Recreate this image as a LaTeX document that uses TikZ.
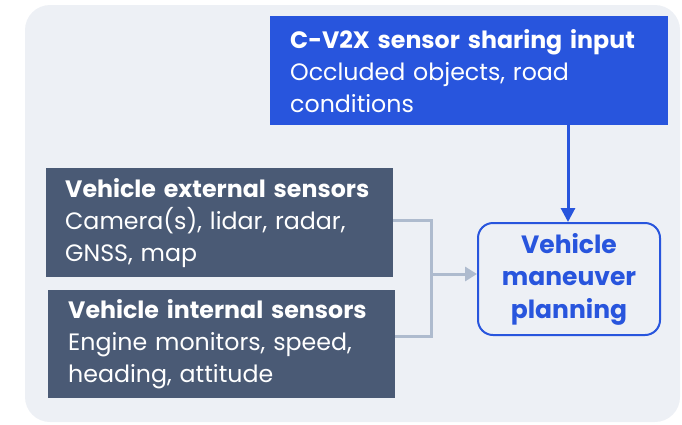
\documentclass[tikz,border=0pt]{standalone}
\usepackage{fontspec}
\setmainfont{Poppins}
\usetikzlibrary{arrows.meta}
\definecolor{bgc}{HTML}{EDF0F5}
\definecolor{qblue}{HTML}{2855DD}
\definecolor{slate}{HTML}{4A5A75}
\definecolor{brk}{HTML}{AEBBCE}
\tikzset{
  darkbox/.style={fill=slate, text=white, anchor=north west, inner xsep=19pt, inner ysep=0pt, align=left, font=\fontsize{23.7}{32}\selectfont},
  bluebox/.style={fill=qblue, text=white, anchor=north west, inner xsep=20pt, inner ysep=0pt, align=left, font=\fontsize{23.7}{32}\selectfont},
  planbox/.style={draw=qblue, line width=2pt, rounded corners=15pt, fill=bgc, text=qblue, align=center, font=\bfseries\fontsize{25}{32.5}\selectfont},
  brkline/.style={draw=brk, line width=3pt},
}
\begin{document}
\begin{tikzpicture}[x=1pt,y=-1pt]
\useasboundingbox (0,0) rectangle (682,424);
\fill[bgc, rounded corners=25pt] (25,5) rectangle (680,422);
\node[bluebox, minimum width=398pt, minimum height=109pt, text width=358pt] (cv2x) at (270,16)
  {\textbf{C-V2X sensor sharing input}\\Occluded objects, road\\conditions};
\node[darkbox, minimum width=347pt, minimum height=109pt, text width=309pt] (ext) at (46,168)
  {\textbf{Vehicle external sensors}\\Camera(s), lidar, radar,\\GNSS, map};
\node[darkbox, minimum width=347pt, minimum height=108pt, text width=307pt, inner xsep=20pt] (int) at (48,290)
  {\textbf{Vehicle internal sensors}\\Engine monitors, speed,\\heading, attitude};
\node[planbox, minimum width=182pt, minimum height=112pt, anchor=north west] (plan) at (477,222)
  {Vehicle\\maneuver\\planning};
\coordinate (j1) at (431,220);
\coordinate (j2) at (431,336);
\coordinate (jm) at (431,274);
\draw[brkline] (ext.east |- j1) -- (j1) -- (j2) -- (int.east |- j2);
\draw[brkline, -{Triangle[length=12pt,width=14pt]}] (jm) -- (plan.west |- jm);
\draw[qblue, line width=3pt, -{Triangle[length=14pt,width=14pt]}] (cv2x.south -| 568,0) -- (plan.north -| 568,0);
\end{tikzpicture}
\end{document}
